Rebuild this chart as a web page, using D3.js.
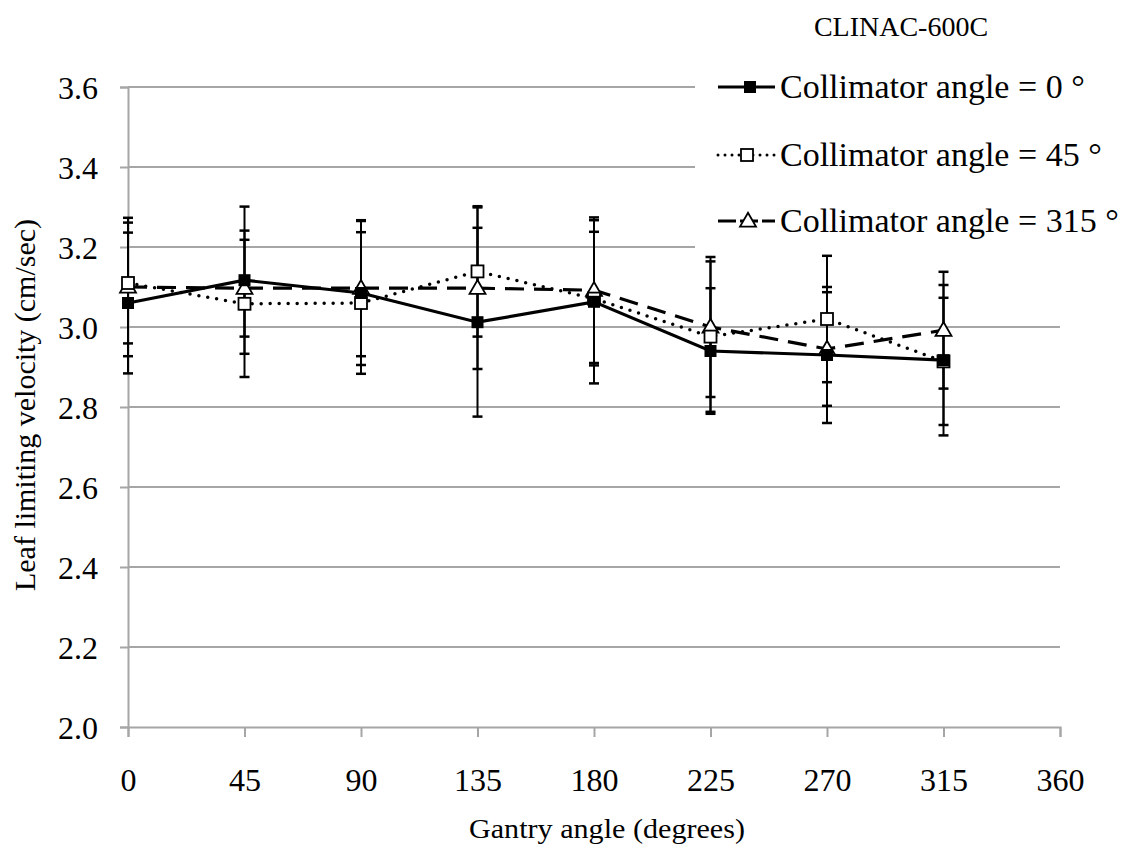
<!DOCTYPE html>
<html>
<head>
<meta charset="utf-8">
<script src="https://cdn.jsdelivr.net/npm/d3@7"></script>
<style>
html,body{margin:0;padding:0;background:#fff;}
svg{display:block;}
text{font-family:"Liberation Serif","Times New Roman",serif;fill:#000;}
</style>
</head>
<body>
<svg id="chart" width="1130" height="857"></svg>
<script>
const gantry = [0, 45, 90, 135, 180, 225, 270, 315];
const xTicks = [0, 45, 90, 135, 180, 225, 270, 315, 360];
const yTicks = [2.0, 2.2, 2.4, 2.6, 2.8, 3.0, 3.2, 3.4, 3.6];
const seriesNames = ["Collimator angle = 0 °", "Collimator angle = 45 °", "Collimator angle = 315 °"];
const col0 = [3.06, 3.117, 3.085, 3.012, 3.063, 2.94, 2.93, 2.917];
const col45 = [3.11, 3.058, 3.06, 3.139, 3.071, 2.976, 3.02, 2.914];
const col315 = [3.10, 3.097, 3.097, 3.097, 3.092, 3.0, 2.945, 2.992];
const err0 = [0.176, 0.184, 0.18, 0.236, 0.204, 0.157, 0.17, 0.188];
const err45 = [0.151, 0.183, 0.177, 0.163, 0.167, 0.188, 0.158, 0.159];
const err315 = [0.173, 0.121, 0.17, 0.202, 0.182, 0.175, 0.142, 0.146];
const title = "CLINAC-600C";
const xTitle = "Gantry angle (degrees)";
const yTitle = "Leaf limiting velocity (cm/sec)";

const FONT = '"Liberation Serif", "Times New Roman", serif';
const svg = d3.select("#chart");
const x = d3.scaleLinear().domain([0, 360]).range([128, 1060]);
const y = d3.scaleLinear().domain([2.0, 3.6]).range([727, 87]);
const gridColor = "#a6a6a6";

// gridlines
svg.append("g").selectAll("line").data(yTicks.filter(d => d > 2.0)).join("line")
  .attr("x1", x(0)).attr("x2", x(360))
  .attr("y1", d => y(d)).attr("y2", d => y(d))
  .attr("stroke", gridColor).attr("stroke-width", 2);

// axes
const yAxis = svg.append("g").attr("transform", `translate(${x(0)},0)`)
  .call(d3.axisLeft(y).tickValues(yTicks).tickFormat(d3.format(".1f")).tickSize(8).tickPadding(22));
const xAxis = svg.append("g").attr("transform", `translate(0,${y(2.0)})`)
  .call(d3.axisBottom(x).tickValues(xTicks).tickFormat(d3.format("d")).tickSize(10).tickPadding(31));
[yAxis, xAxis].forEach(a => {
  a.attr("font-family", null);
  a.select(".domain").attr("stroke", gridColor).attr("stroke-width", 2);
  a.selectAll(".tick line").attr("stroke", gridColor).attr("stroke-width", 2);
  a.selectAll(".tick text").style("font-family", FONT).style("font-size", "32px").attr("fill", "#000");
});
yAxis.selectAll(".tick text").attr("dy", "0.35em");

// legend background
svg.append("rect").attr("x", 695).attr("y", 52).attr("width", 435).attr("height", 200).attr("fill", "#fff");

const series = [
  {name: seriesNames[0], vals: col0, err: err0, dash: null, cap: "butt", marker: "fsquare"},
  {name: seriesNames[1], vals: col45, err: err45, dash: "0,9", cap: "round", marker: "osquare"},
  {name: seriesNames[2], vals: col315, err: err315, dash: "19,10", cap: "butt", marker: "otri"}
];

// error bars
const eb = svg.append("g");
series.forEach(s => {
  gantry.forEach((g, i) => {
    const cx = x(g), lo = y(s.vals[i] - s.err[i]), hi = y(s.vals[i] + s.err[i]);
    eb.append("line").attr("x1", cx).attr("x2", cx).attr("y1", lo).attr("y2", hi).attr("stroke", "#000").attr("stroke-width", 2);
    [lo, hi].forEach(yy => eb.append("line").attr("x1", cx - 5).attr("x2", cx + 5).attr("y1", yy).attr("y2", yy).attr("stroke", "#000").attr("stroke-width", 2.5));
  });
});

const line = d3.line().x((d, i) => x(gantry[i])).y(d => y(d));
function drawMarker(g, type, cx, cy) {
  if (type === "fsquare") {
    g.append("rect").attr("x", cx - 6).attr("y", cy - 6).attr("width", 12).attr("height", 12).attr("fill", "#000");
  } else if (type === "osquare") {
    g.append("rect").attr("x", cx - 6).attr("y", cy - 6).attr("width", 12).attr("height", 12).attr("fill", "#fff").attr("stroke", "#000").attr("stroke-width", 1.8);
  } else {
    g.append("path").attr("d", d3.symbol(d3.symbolTriangle, 110)()).attr("transform", `translate(${cx},${cy + 1})`)
      .attr("fill", "#fff").attr("stroke", "#000").attr("stroke-width", 1.8);
  }
}
const order = [2, 1, 0];
order.forEach(k => {
  const s = series[k];
  svg.append("path").datum(s.vals).attr("d", line).attr("fill", "none").attr("stroke", "#000")
    .attr("stroke-width", s.marker === "osquare" ? 3.5 : 3.2)
    .attr("stroke-dasharray", s.dash).attr("stroke-linecap", s.cap);
});
order.forEach(k => {
  const s = series[k];
  const mg = svg.append("g");
  s.vals.forEach((v, i) => drawMarker(mg, s.marker, x(gantry[i]), y(v)));
});

// legend
const legY = [87, 155, 221];
const legMarkX = [750, 747, 748];
series.forEach((s, k) => {
  const g = svg.append("g");
  g.append("line").attr("x1", 718).attr("x2", 775).attr("y1", legY[k]).attr("y2", legY[k])
    .attr("stroke", "#000").attr("stroke-width", s.marker === "osquare" ? 3 : 3.2)
    .attr("stroke-dasharray", s.marker === "osquare" ? "0,7" : (s.marker === "otri" ? "18,4" : null))
    .attr("stroke-linecap", s.cap);
  drawMarker(g, s.marker, legMarkX[k], legY[k]);
  g.append("text").attr("x", 780).attr("y", legY[k]).attr("dy", "0.33em")
    .style("font-family", FONT).style("font-size", "34px").text(s.name);
});

svg.append("text").attr("x", 901).attr("y", 26).attr("dy", "0.35em").attr("text-anchor", "middle")
  .style("font-family", FONT).style("font-size", "28px").text(title);
svg.append("text").attr("x", 607).attr("y", 838).attr("text-anchor", "middle")
  .attr("textLength", 276).attr("lengthAdjust", "spacingAndGlyphs")
  .style("font-family", FONT).style("font-size", "27px").text(xTitle);
svg.append("text").attr("transform", "translate(35,405) rotate(-90)").attr("text-anchor", "middle")
  .attr("textLength", 372).attr("lengthAdjust", "spacingAndGlyphs")
  .style("font-family", FONT).style("font-size", "29px").text(yTitle);
</script>
</body>
</html>
